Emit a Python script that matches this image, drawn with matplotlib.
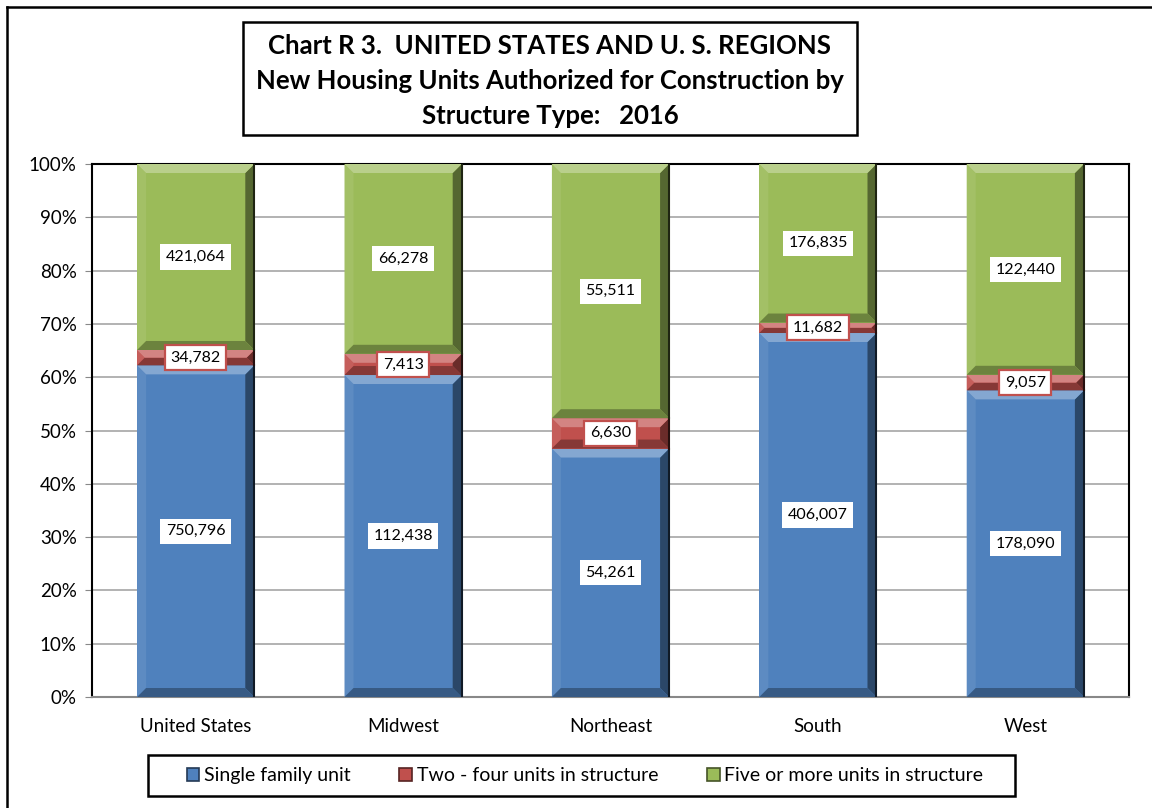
import matplotlib.pyplot as plt
import matplotlib.colors as mcolors
from matplotlib.patches import Rectangle, Polygon, Patch
from matplotlib.ticker import PercentFormatter
import numpy as np

plt.rcParams['font.family'] = ['Lato', 'DejaVu Sans']

regions = ['United States', 'Midwest', 'Northeast', 'South', 'West']
single_family = [750796, 112438, 54261, 406007, 178090]
two_four = [34782, 7413, 6630, 11682, 9057]
five_plus = [421064, 66278, 55511, 176835, 122440]

series_names = ['Single family unit', 'Two - four units in structure',
                'Five or more units in structure']
series_colors = ['#4F81BD', '#C0504D', '#9BBB59']

W, H = 1152, 808
fig = plt.figure(figsize=(W / 100, H / 100), dpi=100)

# plot area in pixels
ax_l, ax_r, ax_t, ax_b = 92, 1129, 164, 697
ax = fig.add_axes([ax_l / W, 1 - ax_b / H, (ax_r - ax_l) / W, (ax_b - ax_t) / H])

x = np.arange(len(regions))
ax.set_xlim(-0.5, len(regions) - 0.5)
ax.set_ylim(0, 1)
bar_w = 0.565

# data units per pixel
px_x = len(regions) / (ax_r - ax_l)
px_y = 1.0 / (ax_b - ax_t)


def shade(c, f):
    r = np.array(mcolors.to_rgb(c))
    if f >= 0:
        r = r + (1 - r) * f
    else:
        r = r * (1 + f)
    return tuple(np.clip(r, 0, 1))


def bevel_bar(cx, y0, y1, color):
    x0, x1 = cx - bar_w / 2, cx + bar_w / 2
    b = 9
    by = min(b * px_y, (y1 - y0) / 2)
    bx = by / px_y * px_x
    ax.add_patch(Rectangle((x0, y0), x1 - x0, y1 - y0, facecolor=color,
                           edgecolor='none', zorder=3))
    top = [(x0, y1), (x1, y1), (x1 - bx, y1 - by), (x0 + bx, y1 - by)]
    bot = [(x0, y0), (x1, y0), (x1 - bx, y0 + by), (x0 + bx, y0 + by)]
    left = [(x0, y0), (x0, y1), (x0 + bx, y1 - by), (x0 + bx, y0 + by)]
    right = [(x1, y0), (x1, y1), (x1 - bx, y1 - by), (x1 - bx, y0 + by)]
    for poly, f in [(left, 0.08), (right, -0.45), (bot, -0.3), (top, 0.3)]:
        ax.add_patch(Polygon(poly, closed=True, facecolor=shade(color, f),
                             edgecolor='none', zorder=3))
    ax.plot([x1, x1], [y0, y1], color=shade(color, -0.8), lw=1.5, zorder=3.5)


values = np.array([single_family, two_four, five_plus], dtype=float)
shares = values / values.sum(axis=0)

for i in range(len(regions)):
    bottom = 0.0
    for s in range(3):
        top = bottom + shares[s, i]
        bevel_bar(x[i], bottom, top, series_colors[s])
        edge = series_colors[1] if s == 1 else 'none'
        ax.text(x[i], (bottom + top) / 2, f'{int(values[s, i]):,}',
                ha='center', va='center', fontsize=11.5, color='black', zorder=5,
                bbox=dict(boxstyle='square,pad=0.35', facecolor='white',
                          edgecolor=edge, linewidth=1.6))
        bottom = top

ax.set_yticks(np.linspace(0, 1, 11))
ax.yaxis.set_major_formatter(PercentFormatter(1.0, decimals=0))
ax.set_xticks(x)
ax.set_xticklabels(regions)
ax.tick_params(axis='both', labelsize=13.5, colors='black')
ax.tick_params(axis='y', length=5, color='#888888', pad=6)
ax.tick_params(axis='x', length=0, pad=15)
ax.grid(axis='y', color='#A6A6A6', linewidth=1.2, zorder=0)
ax.set_axisbelow(True)
for side in ['left', 'right', 'top']:
    ax.spines[side].set_color('black')
    ax.spines[side].set_linewidth(1.5)
ax.spines['bottom'].set_color('#888888')
ax.spines['bottom'].set_linewidth(1.5)

# outer frame (left and top edges)
fig.add_artist(plt.Line2D([7 / W, 7 / W], [0, 1 - 7 / H], transform=fig.transFigure,
                          color='black', lw=1.8))
fig.add_artist(plt.Line2D([7 / W, 1], [1 - 7 / H, 1 - 7 / H], transform=fig.transFigure,
                          color='black', lw=1.8))

# title box
fig.add_artist(Rectangle((243 / W, 1 - 135 / H), 614 / W, 113 / H,
                         transform=fig.transFigure, facecolor='white',
                         edgecolor='black', linewidth=1.8))
title_lines = ['Chart R 3.  UNITED STATES AND U. S. REGIONS',
               'New Housing Units Authorized for Construction by',
               'Structure Type:   2016']
for line, ypx in zip(title_lines, [46, 81, 116]):
    fig.text(550 / W, 1 - ypx / H, line, ha='center', va='center',
             fontsize=18.5, fontweight='bold')

# legend box
fig.add_artist(Rectangle((148 / W, 1 - 796 / H), 867 / W, 41 / H,
                         transform=fig.transFigure, facecolor='white',
                         edgecolor='black', linewidth=1.8))
handles = [Patch(facecolor=c, edgecolor=shade(c, -0.55), linewidth=1.2)
           for c in series_colors]
fig.legend(handles, series_names, loc='center', ncol=3, frameon=False,
           bbox_to_anchor=(585 / W, 1 - 775.5 / H), fontsize=14,
           handlelength=0.65, handleheight=0.65, handletextpad=0.25,
           columnspacing=2.5)

fig.savefig('out.png', dpi=100)
